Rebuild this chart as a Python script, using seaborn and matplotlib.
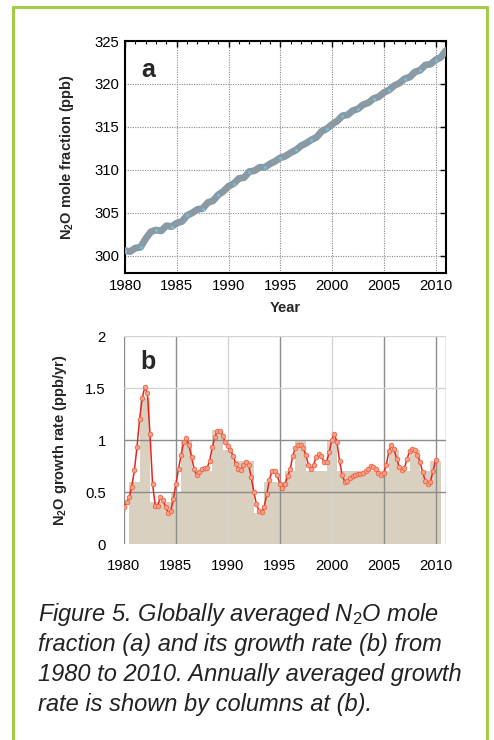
import numpy as np
import pandas as pd
import matplotlib
matplotlib.use("Agg")
import matplotlib.pyplot as plt
from matplotlib.lines import Line2D
from matplotlib.ticker import MultipleLocator
import seaborn as sns

# ---------------- data ----------------
# (a) N2O mole fraction, half-yearly readings
frac_years = [1980.0, 1980.5, 1981.0, 1981.5, 1982.0, 1982.5, 1983.0, 1983.5, 1984.0, 1984.5,
              1985.0, 1985.5, 1986.0, 1986.5, 1987.0, 1987.5, 1988.0, 1988.5, 1989.0, 1989.5,
              1990.0, 1990.5, 1991.0, 1991.5, 1992.0, 1992.5, 1993.0, 1993.5, 1994.0, 1994.5,
              1995.0, 1995.5, 1996.0, 1996.5, 1997.0, 1997.5, 1998.0, 1998.5, 1999.0, 1999.5,
              2000.0, 2000.5, 2001.0, 2001.5, 2002.0, 2002.5, 2003.0, 2003.5, 2004.0, 2004.5,
              2005.0, 2005.5, 2006.0, 2006.5, 2007.0, 2007.5, 2008.0, 2008.5, 2009.0, 2009.5,
              2010.0, 2010.5, 2011.0]
frac_values = [300.6, 300.5, 300.9, 301.0, 302.0, 302.8, 303.0, 302.9, 303.5, 303.4,
               303.8, 304.0, 304.7, 305.0, 305.4, 305.5, 306.2, 306.4, 307.1, 307.5,
               308.1, 308.4, 309.0, 309.1, 309.8, 309.9, 310.3, 310.3, 310.7, 311.0,
               311.4, 311.6, 312.0, 312.3, 312.8, 313.1, 313.5, 313.8, 314.5, 314.8,
               315.3, 315.7, 316.3, 316.4, 316.9, 317.1, 317.6, 317.8, 318.3, 318.5,
               319.0, 319.3, 319.8, 320.1, 320.6, 320.8, 321.4, 321.6, 322.2, 322.3,
               322.8, 323.1, 323.9]

# (b) annually averaged growth rate (columns)
bar_years = [1981, 1982, 1983, 1984, 1985, 1986, 1987, 1988, 1989, 1990,
             1991, 1992, 1993, 1994, 1995, 1996, 1997, 1998, 1999, 2000,
             2001, 2002, 2003, 2004, 2005, 2006, 2007, 2008, 2009, 2010]
bar_values = [0.6, 1.4, 0.4, 0.4, 0.5, 1.0, 0.7, 0.7, 1.1, 0.9,
              0.8, 0.8, 0.3, 0.6, 0.6, 0.7, 1.0, 0.7, 0.7, 1.0,
              0.7, 0.7, 0.7, 0.7, 0.7, 0.9, 0.7, 0.9, 0.7, 0.8]

# (b) smoothed growth rate, quarterly readings from 1980.0
rate_start = 1980.0
rate_step = 0.25
rate_values = [0.36, 0.40, 0.45, 0.55, 0.71, 0.93, 1.20, 1.40, 1.51, 1.45,
               1.06, 0.58, 0.37, 0.37, 0.45, 0.42, 0.36, 0.30, 0.32, 0.43,
               0.58, 0.72, 0.86, 0.98, 1.02, 0.95, 0.84, 0.72, 0.66, 0.69,
               0.72, 0.73, 0.73, 0.80, 0.93, 1.03, 1.09, 1.09, 1.04, 0.98,
               0.94, 0.90, 0.85, 0.77, 0.72, 0.71, 0.76, 0.79, 0.76, 0.64,
               0.50, 0.38, 0.32, 0.31, 0.36, 0.48, 0.62, 0.70, 0.70, 0.66,
               0.58, 0.54, 0.58, 0.65, 0.72, 0.85, 0.92, 0.95, 0.95, 0.92,
               0.86, 0.76, 0.72, 0.76, 0.84, 0.87, 0.85, 0.79, 0.79, 0.88,
               1.00, 1.06, 0.98, 0.80, 0.66, 0.60, 0.61, 0.63, 0.65, 0.66,
               0.67, 0.67, 0.68, 0.70, 0.72, 0.75, 0.74, 0.72, 0.68, 0.66,
               0.68, 0.76, 0.89, 0.95, 0.91, 0.82, 0.74, 0.71, 0.73, 0.82,
               0.89, 0.91, 0.90, 0.86, 0.79, 0.69, 0.61, 0.58, 0.60, 0.70,
               0.81]
rate_years = [rate_start + i * rate_step for i in range(len(rate_values))]

x_ticks = [1980, 1985, 1990, 1995, 2000, 2005, 2010]
a_yticks = [300, 305, 310, 315, 320, 325]
b_yticks = [0, 0.5, 1, 1.5, 2]
b_yticklabels = ["0", "0.5", "1", "1.5", "2"]

caption_lines = [
    r"Figure 5. Globally averaged N$_{\mathit{2}}$O mole",
    "fraction (a) and its growth rate (b) from",
    "1980 to 2010. Annually averaged growth",
    "rate is shown by columns at (b).",
]

# ---------------- style ----------------
sns.set_style("white")
plt.rcParams["font.family"] = ["Liberation Sans", "DejaVu Sans"]
plt.rcParams["mathtext.fontset"] = "custom"
plt.rcParams["mathtext.rm"] = "Liberation Sans"
plt.rcParams["mathtext.it"] = "Liberation Sans:italic"
plt.rcParams["mathtext.bf"] = "Liberation Sans:bold"

W, H = 494, 740
fig = plt.figure(figsize=(W / 100, H / 100), dpi=100)
fig.patch.set_facecolor("white")

def fx(px):
    return px / W

def fy(py):
    return 1 - py / H

# green frame
green = "#a3cb45"
fig.add_artist(Line2D([fx(13), fx(13)], [fy(6.5), 0], color=green, lw=2.2, transform=fig.transFigure))
fig.add_artist(Line2D([fx(13), fx(487)], [fy(6.5), fy(6.5)], color=green, lw=2.2, transform=fig.transFigure))
fig.add_artist(Line2D([fx(487), fx(487)], [fy(6.5), 0], color=green, lw=2.2, transform=fig.transFigure))

TICK_FS = 10.7
LABEL_FS = 10.5

# ---------------- panel a ----------------
axa = fig.add_axes([fx(125), fy(273), fx(321), 232 / H])
dfa = pd.DataFrame({"year": frac_years, "n2o": frac_values})
sns.lineplot(data=dfa, x="year", y="n2o", ax=axa, color="#8a9aa5", lw=5,
             solid_capstyle="round", zorder=3)
sns.lineplot(data=dfa, x="year", y="n2o", ax=axa, color="#8a9aa5", lw=0,
             marker="o", markersize=2.2, markerfacecolor="#72c0e0",
             markeredgecolor="none", markevery=3, zorder=4)
axa.set_xlim(1980, 2011)
axa.set_ylim(298, 325)
axa.set_xticks(x_ticks)
axa.set_yticks(a_yticks)
axa.xaxis.set_minor_locator(MultipleLocator(1))
axa.grid(True, which="major", linestyle=(0, (1, 1.2)), color="#8a8a8a", lw=0.8)
axa.set_axisbelow(True)
for s in axa.spines.values():
    s.set_visible(True)
    s.set_color("black")
    s.set_linewidth(1.5)
axa.tick_params(axis="both", which="both", direction="in", top=True, right=True,
                labelsize=TICK_FS, colors="black", pad=4)
axa.tick_params(axis="both", which="major", length=4, width=1)
axa.tick_params(axis="x", which="minor", length=2.5, width=0.8)
axa.set_xlabel("Year", fontsize=LABEL_FS, fontweight="bold", labelpad=6)
axa.set_ylabel(r"N$_{\mathbf{2}}$O mole fraction (ppb)", fontsize=LABEL_FS, fontweight="bold", labelpad=13)
axa.text(0.05, 0.875, "a", transform=axa.transAxes, fontsize=18, fontweight="bold",
         va="center", ha="left")

# ---------------- panel b ----------------
axb = fig.add_axes([fx(124), fy(544), fx(322), 208 / H])
dfb = pd.DataFrame({"year": bar_years, "rate": bar_values})
sns.barplot(data=dfb, x="year", y="rate", ax=axb, native_scale=True, width=1.0,
            color="#d9d0bf", saturation=1, errorbar=None, linewidth=0, zorder=1)
dfr = pd.DataFrame({"year": rate_years, "rate": rate_values})
sns.lineplot(data=dfr, x="year", y="rate", ax=axb, color="#e8231b", lw=1.1,
             marker="o", markersize=3.3, markerfacecolor="#f7a184",
             markeredgecolor="#f0624a", markeredgewidth=0.6, zorder=4)
axb.set_xlim(1980, 2011)
axb.set_ylim(0, 2)
for s in axb.spines.values():
    s.set_visible(False)
dark = "#8c8c8c"
light = "#d4d4d4"
for xv in [1980, 1985, 1995, 2005, 2010, 2011]:
    axb.axvline(xv, color=dark, lw=1.0, zorder=2)
for xv in [1990, 2000]:
    axb.axvline(xv, color=light, lw=1.0, zorder=2)
for yv in [0.5, 1.0]:
    axb.axhline(yv, color=dark, lw=1.0, zorder=2)
for yv in [1.5, 2.0]:
    axb.axhline(yv, color=light, lw=1.0, zorder=2)
axb.set_xticks(x_ticks)
axb.set_xticklabels([str(v) for v in x_ticks])
axb.set_yticks(b_yticks)
axb.set_yticklabels(b_yticklabels)
axb.tick_params(axis="both", length=0, labelsize=TICK_FS, colors="black")
axb.tick_params(axis="x", pad=11)
axb.tick_params(axis="y", pad=13)
axb.set_xlabel("")
axb.set_ylabel(r"N$_{\mathbf{2}}$O growth rate (ppb/yr)", fontsize=LABEL_FS, fontweight="bold", labelpad=12)
axb.text(0.05, 0.875, "b", transform=axb.transAxes, fontsize=18, fontweight="bold",
         va="center", ha="left")

# ---------------- caption ----------------
for i, line in enumerate(caption_lines):
    fig.text(fx(38), fy(614 + 30 * i), line, fontsize=17, fontstyle="italic",
             color="#222222", ha="left", va="center")

fig.savefig("out.png", dpi=100)
